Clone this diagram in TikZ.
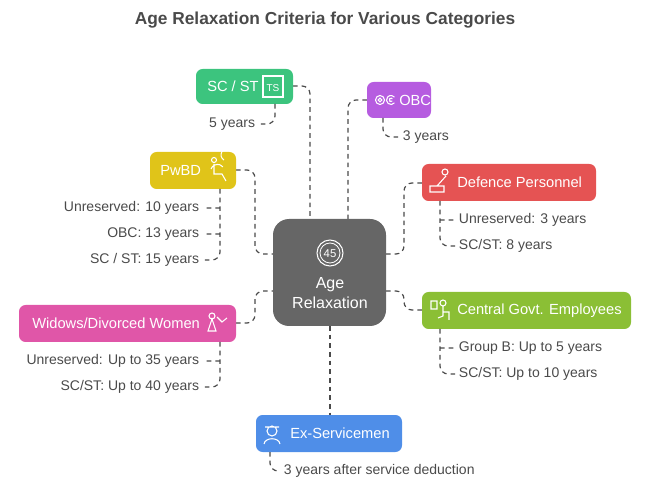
\documentclass[tikz,border=0pt]{standalone}
\usepackage{fontspec}
\setmainfont{Liberation Sans}
\usetikzlibrary{positioning}
\definecolor{txt}{HTML}{4A4A4A}
\definecolor{cgreen}{HTML}{3CC47E}
\definecolor{cpurple}{HTML}{B65CE0}
\definecolor{cyellow}{HTML}{E0C419}
\definecolor{cred}{HTML}{E55353}
\definecolor{cpink}{HTML}{E056A8}
\definecolor{clime}{HTML}{8BBF35}
\definecolor{cblue}{HTML}{4F8EE8}
\definecolor{cgray}{HTML}{666666}
\tikzset{
  lbl/.style={white, font=\fontsize{11}{13}\selectfont, anchor=west, inner sep=0pt},
  link/.style={dashed, txt, line width=0.9pt, dash pattern=on 3.5pt off 3pt, rounded corners=6pt},
  item/.style={text=txt, font=\fontsize{10.5}{12}\selectfont, inner sep=2pt},
  ico/.style={white, line width=0.8pt},
}
\begin{document}
\begin{tikzpicture}[x=0.75pt,y=-0.75pt]
\useasboundingbox (0,0) rectangle (650,488);
\node[font=\bfseries\fontsize{13}{15}\selectfont, text=txt] (title) at (325,20) {Age Relaxation Criteria for Various Categories};

% connectors
\draw[link] (293,86) -- (310,86) -- (310,219);
\draw[link] (367,100) -- (348,100) -- (348,219);
\draw[link] (236,170) -- (255,170) -- (255,254) -- (273,254);
\draw[link] (422,183) -- (404,183) -- (404,254) -- (386,254);
\draw[link] (236,323) -- (255,323) -- (255,291) -- (273,291);
\draw[link] (386,291) -- (404,291) -- (404,310) -- (422,310);
\draw[link] (330,326) -- (330,415);

% center
\fill[cgray, rounded corners=12pt] (273,219) rectangle (386,326);
\node[white, font=\fontsize{12}{14.5}\selectfont, align=center] (center) at (330,293) {Age\\Relaxation};
\draw[ico] (330,253) circle (13);
\draw[white, line width=0.6pt] (330,253) circle (10);
\node[white, font=\fontsize{8.5}{9}\selectfont] (age) at (330,254) {45};

% category boxes
\fill[cgreen, rounded corners=5pt] (196,69) rectangle (293,104);
\node[lbl] (scst) at (207,86.5) {SC / ST};
\draw[ico] (263,76) rectangle (283,97);
\node[white, font=\fontsize{7.5}{8}\selectfont] at (273,88) {TS};

\fill[cpurple, rounded corners=5pt] (367,82) rectangle (431,118);
\node[lbl] (obc) at (399,100) {OBC};
\draw[ico] (380,100) circle (4.5) (380,100) circle (1.8);
\draw[ico] (391,100) ++(40:4.5) arc[start angle=40, end angle=320, radius=4.5];
\draw[ico] (391,100) ++(40:1.8) arc[start angle=40, end angle=320, radius=1.8];

\fill[cyellow, rounded corners=5pt] (150,152) rectangle (236,189);
\node[lbl] (pwbd) at (160,170.5) {PwBD};
\draw[ico] (214,160) circle (2.5) (214,164) -- (214,174) -- (222,174) -- (226,181) (211,169) arc[start angle=200, end angle=320, radius=7];
\draw[ico] (224,160) arc[start angle=-60, end angle=60, radius=-6];

\fill[cred, rounded corners=5pt] (422,164) rectangle (596,201);
\node[lbl] (def) at (457,182.5) {Defence Personnel};
\draw[ico] (430,192) rectangle (444,186) (437,186) -- (446,176) (445,172) circle (3);

\fill[cpink, rounded corners=5pt] (19,305) rectangle (236,342);
\node[lbl] (wid) at (32,323.5) {Widows/Divorced Women};
\draw[ico] (212,316) circle (3) (212,319) -- (208,331) -- (216,331) -- cycle (217,317) -- (222,322) -- (227,318);

\fill[clime, rounded corners=5pt] (422,292) rectangle (631,329);
\node[lbl] (cge) at (457,310.5) {Central Govt. Employees};
\draw[ico] (431,301) rectangle (437,309) (443,303) circle (3) (443,306) -- (443,316) -- (438,318) (443,312) -- (449,312) -- (449,320);

\fill[cblue, rounded corners=5pt] (256,415) rectangle (402,452);
\node[lbl] (exs) at (290,433.5) {Ex-Servicemen};
\draw[ico] (272,431) circle (5) (265,427) -- (279,427) (264,444) .. controls (265,437) and (279,437) .. (280,444);

% sub items
\draw[link] (275,104) -- (275,124) -- (260,124);
\node[item, anchor=east] (i1) at (258,124) {5 years};
\draw[link] (383,118) -- (383,137) -- (398,137);
\node[item, anchor=west] (i2) at (400,137) {3 years};

\draw[link] (220,189) -- (220,260) -- (204,260) (220,208) -- (204,208) (220,234) -- (204,234);
\node[item, anchor=east] (p1) at (202,208) {Unreserved: 10 years};
\node[item, anchor=east] (p2) at (202,234) {OBC: 13 years};
\node[item, anchor=east] (p3) at (202,260) {SC / ST: 15 years};

\draw[link] (440,201) -- (440,246) -- (455,246) (440,220) -- (455,220);
\node[item, anchor=west] (d1) at (456,220) {Unreserved: 3 years};
\node[item, anchor=west] (d2) at (456,246) {SC/ST: 8 years};

\draw[link] (220,342) -- (220,387) -- (204,387) (220,361) -- (204,361);
\node[item, anchor=east] (w1) at (202,361) {Unreserved: Up to 35 years};
\node[item, anchor=east] (w2) at (202,387) {SC/ST: Up to 40 years};

\draw[link] (440,329) -- (440,374) -- (455,374) (440,348) -- (455,348);
\node[item, anchor=west] (c1) at (456,348) {Group B: Up to 5 years};
\node[item, anchor=west] (c2) at (456,374) {SC/ST: Up to 10 years};

\draw[link] (270,452) -- (270,471) -- (280,471);
\node[item, anchor=west] (e1) at (281,471) {3 years after service deduction};
\end{tikzpicture}
\end{document}
